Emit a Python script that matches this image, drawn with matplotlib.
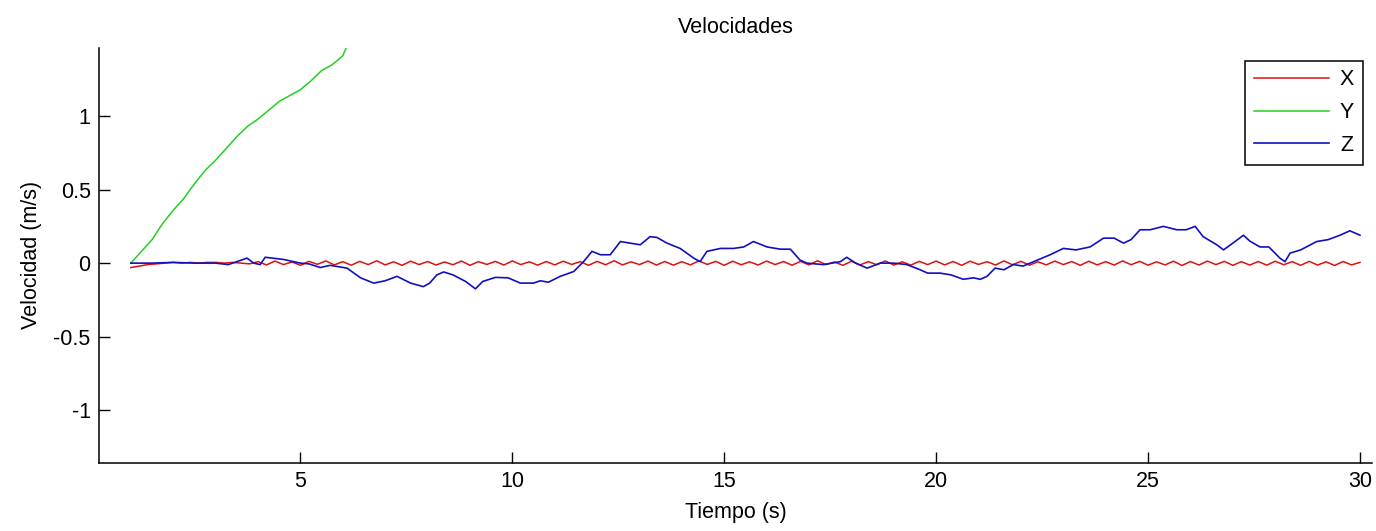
import numpy as np
import matplotlib
matplotlib.use("Agg")
import matplotlib.pyplot as plt

# datos
t_x = np.round(np.arange(1.0, 30.01, 0.2), 2)
vel_x = [
    -0.03, -0.02, -0.01, -0.005, 0.0, 0.005, 0.0, 0.005, 0.0, 0.005,
    0.005, 0.0, 0.005, 0.0, -0.005,
    0.01, -0.012, 0.014, -0.01, 0.008, -0.015, 0.012, -0.008, 0.015, -0.012,
    0.01, -0.014, 0.012, -0.01, 0.016, -0.012, 0.009, -0.015, 0.013, -0.01,
    0.011, -0.013, 0.008, -0.011, 0.014, -0.015, 0.01, -0.009, 0.012, -0.013,
    0.015, -0.01, 0.009, -0.014, 0.011, -0.012, 0.013, -0.009, 0.01, -0.015,
    0.012, -0.011, 0.016, -0.012, 0.009, -0.01, 0.014, -0.013, 0.011, -0.014,
    0.01, -0.012, 0.015, -0.009, 0.012, -0.015, 0.013, -0.011, 0.009, -0.013,
    0.014, -0.01, 0.011, -0.014, 0.012, -0.012, 0.016, -0.01, 0.008, -0.015,
    0.013, -0.012, 0.01, -0.011, 0.015, -0.013, 0.009, -0.014, 0.012, -0.01,
    0.014, -0.012, 0.011, -0.015, 0.013, -0.009, 0.01, -0.013, 0.015, -0.011,
    0.012, -0.014, 0.009, -0.012, 0.014, -0.01, 0.011, -0.015, 0.013, -0.012,
    0.01, -0.013, 0.015, -0.011, 0.012, -0.014, 0.009, -0.012, 0.013, -0.016,
    0.011, -0.013, 0.014, -0.01, 0.012, -0.015, 0.01, -0.013, 0.011, -0.014,
    0.013, -0.011, 0.01, -0.015, 0.012, -0.013, 0.009, -0.016, 0.011, -0.012,
    0.005,
]

t_y = [1.0, 1.25, 1.5, 1.75, 2.0, 2.25, 2.5, 2.75, 3.0, 3.25, 3.5, 3.75,
       4.0, 4.25, 4.5, 4.75, 5.0, 5.25, 5.5, 5.75, 6.0, 6.1]
vel_y = [0.0, 0.08, 0.16, 0.27, 0.36, 0.44, 0.54, 0.63, 0.70, 0.78, 0.86, 0.93,
         0.98, 1.04, 1.10, 1.14, 1.18, 1.24, 1.31, 1.35, 1.41, 1.48]

t_z = [1.0, 1.5, 2.0, 2.5, 3.0, 3.3, 3.5, 3.74, 3.9, 4.05, 4.17, 4.6, 5.0, 5.2,
       5.47, 5.7, 6.1, 6.42, 6.73, 7.0, 7.28, 7.6, 7.9, 8.05, 8.22, 8.38, 8.6,
       8.9, 9.13, 9.3, 9.6, 9.9, 10.19, 10.5, 10.66, 10.85, 11.13, 11.45, 11.68,
       11.88, 12.08, 12.31, 12.55, 12.78, 13.02, 13.25, 13.41, 13.65, 13.96,
       14.28, 14.43, 14.59, 14.91, 15.22, 15.46, 15.69, 16.01, 16.32, 16.56,
       16.79, 16.95, 17.34, 17.74, 17.89, 18.1, 18.37, 18.68, 19.0, 19.31,
       19.62, 19.8, 20.09, 20.35, 20.64, 20.88, 21.04, 21.2, 21.39, 21.6,
       21.82, 22.05, 22.3, 22.69, 23.0, 23.3, 23.63, 23.95, 24.2, 24.42, 24.6,
       24.81, 25.05, 25.36, 25.68, 25.9, 26.11, 26.3, 26.62, 26.78, 27.0,
       27.25, 27.4, 27.64, 27.85, 28.11, 28.23, 28.35, 28.6, 28.98, 29.25,
       29.53, 29.76, 30.0]
vel_z = [0.0, 0.0, 0.005, 0.0, 0.0, -0.01, 0.01, 0.034, 0.0, -0.01, 0.04, 0.025,
         0.0, -0.005, -0.03, -0.015, -0.034, -0.10, -0.136, -0.12, -0.09,
         -0.136, -0.16, -0.136, -0.08, -0.06, -0.08, -0.125, -0.175, -0.125,
         -0.097, -0.10, -0.136, -0.136, -0.12, -0.13, -0.09, -0.057, 0.01,
         0.08, 0.057, 0.057, 0.147, 0.136, 0.125, 0.18, 0.175, 0.136, 0.10,
         0.034, 0.01, 0.08, 0.10, 0.10, 0.11, 0.147, 0.11, 0.095, 0.095,
         0.02, 0.0, -0.01, 0.01, 0.04, 0.0, -0.034, 0.0, 0.0, -0.01,
         -0.045, -0.068, -0.068, -0.08, -0.11, -0.10, -0.11, -0.09, -0.034,
         -0.045, -0.01, -0.02, 0.01, 0.057, 0.10, 0.09, 0.11, 0.17, 0.17,
         0.136, 0.16, 0.227, 0.227, 0.25, 0.227, 0.227, 0.25, 0.18, 0.125,
         0.09, 0.136, 0.19, 0.15, 0.11, 0.11, 0.034, 0.01, 0.068, 0.09,
         0.147, 0.16, 0.19, 0.22, 0.19]

series_names = ["X", "Y", "Z"]

plt.rcParams['font.family'] = ['Liberation Sans', 'DejaVu Sans']
fs = 15.5

fig = plt.figure(figsize=(13.76, 5.31), dpi=100)
ax = fig.add_axes([0.072, 0.128, 0.925, 0.782])

ax.plot(t_x, vel_x, color='#e01010', lw=1.1, label=series_names[0])
ax.plot(t_y, vel_y, color='#22d022', lw=1.1, label=series_names[1])
ax.plot(t_z, vel_z, color='#1010c0', lw=1.2, label=series_names[2])

ax.set_xlim(0.25, 30.28)
ax.set_ylim(-1.36, 1.465)
ax.set_xticks([5, 10, 15, 20, 25, 30])
ax.set_yticks([-1, -0.5, 0, 0.5, 1])
ax.set_yticklabels(['-1', '-0.5', '0', '0.5', '1'])

for s in ['top', 'right']:
    ax.spines[s].set_visible(False)
for s in ['left', 'bottom']:
    ax.spines[s].set_linewidth(1.1)
ax.tick_params(direction='in', length=8, width=1.0, labelsize=fs, pad=6)

ax.set_title("Velocidades", fontsize=fs, pad=11)
ax.set_xlabel("Tiempo (s)", fontsize=fs, labelpad=7)
ax.set_ylabel("Velocidad (m/s)", fontsize=fs, labelpad=8)

leg = ax.legend(loc='upper right', bbox_to_anchor=(0.993, 0.969),
                borderaxespad=0, fontsize=fs, handlelength=3.5,
                handletextpad=0.5, labelspacing=0.55, borderpad=0.4,
                fancybox=False, framealpha=1, edgecolor='black')
leg.get_frame().set_linewidth(1.1)

fig.savefig("out.png", dpi=100)
